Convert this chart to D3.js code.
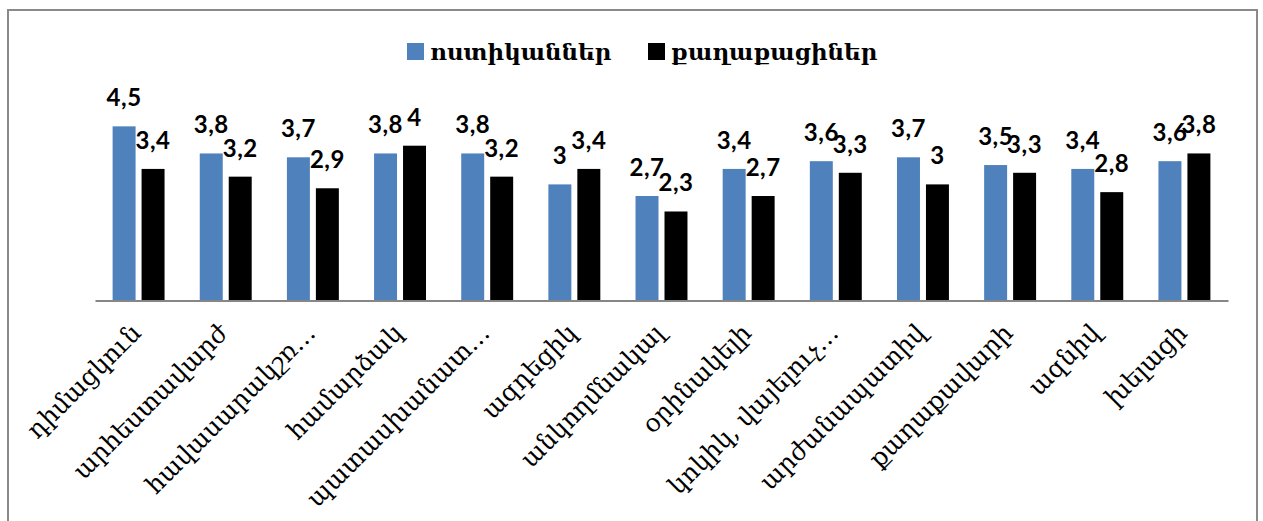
<!DOCTYPE html>
<html>
<head>
<meta charset="utf-8">
<script src="https://cdn.jsdelivr.net/npm/d3@7"></script>
<style>
  html, body { margin: 0; padding: 0; background: #fff; }
  svg { display: block; }
</style>
</head>
<body>
<svg id="chart" width="1263" height="521"></svg>
<script>
// Qualities rated for police officers and for citizens
const categories = [
  "դիմացկուն", "արհեստավարժ", "հավասարակշռ…", "համարձակ", "պատասխանատ…",
  "ազդեցիկ", "անկողմնակալ", "օրինակելի", "կոկիկ, վայելուչ…", "արժանապատիվ",
  "քաղաքավարի", "ազնիվ", "խելացի"
];
const seriesNames = ["ոստիկաններ", "քաղաքացիներ"];
const policeValues = [4.5, 3.8, 3.7, 3.8, 3.8, 3, 2.7, 3.4, 3.6, 3.7, 3.5, 3.4, 3.6];
const citizenValues = [3.4, 3.2, 2.9, 4, 3.2, 3.4, 2.3, 2.7, 3.3, 3, 3.3, 2.8, 3.8];
const seriesColors = ["#4F81BD", "#000000"];

const svg = d3.select("#chart");

// outer frame
svg.append("rect")
  .attr("x", 8).attr("y", 10)
  .attr("width", 1249).attr("height", 530)
  .attr("fill", "none")
  .attr("stroke", "#8a8a8a")
  .attr("stroke-width", 2);

const plot = { left: 95, right: 1228, top: 107, bottom: 300.5 };

const x = d3.scaleBand().domain(categories).range([plot.left, plot.right]);
const groupW = x.bandwidth() * 0.596;
const xs = d3.scaleBand().domain(seriesNames).range([0, groupW]).paddingInner(0.207);
const y = d3.scaleLinear().domain([0, 5]).range([plot.bottom, plot.top]);

const rows = categories.map((c, i) => ({
  cat: c,
  vals: [
    { s: seriesNames[0], v: policeValues[i], color: seriesColors[0] },
    { s: seriesNames[1], v: citizenValues[i], color: seriesColors[1] }
  ]
}));

const fmt = v => String(v).replace(".", ",");

const groups = svg.append("g").selectAll("g")
  .data(rows).join("g")
  .attr("transform", d => `translate(${x(d.cat) + (x.bandwidth() - groupW) / 2},0)`);

groups.selectAll("rect")
  .data(d => d.vals).join("rect")
  .attr("x", d => xs(d.s))
  .attr("y", d => y(d.v))
  .attr("width", xs.bandwidth())
  .attr("height", d => y(0) - y(d.v))
  .attr("fill", d => d.color);

// value labels above bars (neighbouring labels may touch, as in the source layout)
groups.selectAll("text")
  .data(d => d.vals).join("text")
  .attr("x", d => xs(d.s) + xs.bandwidth() / 2)
  .attr("y", d => y(d.v) - 20)
  .attr("text-anchor", "middle")
  .attr("font-family", "Lato, 'Open Sans', sans-serif")
  .attr("font-weight", "bold")
  .attr("font-size", 24)
  .attr("letter-spacing", 0.5)
  .attr("fill", "#000")
  .text(d => fmt(d.v));

// category axis
const xAxis = svg.append("g")
  .attr("transform", `translate(0,${plot.bottom})`)
  .call(d3.axisBottom(x).tickSize(0).tickPadding(0));
xAxis.select(".domain").attr("stroke", "#868686").attr("stroke-width", 2);
xAxis.selectAll(".tick text")
  .attr("font-family", "'DejaVu Serif', serif")
  .attr("font-size", 25)
  .attr("fill", "#000")
  .attr("text-anchor", "end")
  .attr("dy", 0)
  .attr("transform", "translate(4,34) rotate(-45)");

// legend
const legend = svg.append("g").attr("transform", "translate(407,43)");
const legendX = [0, 241];
seriesNames.forEach((name, i) => {
  const g = legend.append("g").attr("transform", `translate(${legendX[i]},0)`);
  g.append("rect").attr("width", 17).attr("height", 17).attr("fill", seriesColors[i]);
  g.append("text")
    .attr("x", 23).attr("y", 17)
    .attr("font-family", "'DejaVu Serif', serif")
    .attr("font-weight", "bold")
    .attr("font-size", 23)
    .attr("fill", "#000")
    .text(name);
});
</script>
</body>
</html>
